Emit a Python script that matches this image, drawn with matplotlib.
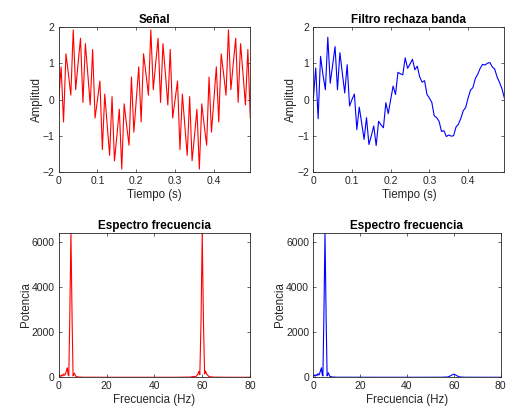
import numpy as np
import matplotlib
matplotlib.use("Agg")
import matplotlib.pyplot as plt

# ── Data ─────────────────────────────────────────────────────────────────────
FS = 160  # samples per second
signal_red = [
    0.00, 0.90, -0.62, 1.26, 0.71, 0.12, 1.92, 0.27,
    1.00, 1.69, -0.08, 1.54, 0.71, -0.15, 1.38, -0.51,
    0.00, 0.51, -1.38, 0.15, -0.71, -1.54, 0.08, -1.69,
    -1.00, -0.27, -1.92, -0.12, -0.71, -1.26, 0.62, -0.90,
    0.00, 0.90, -0.62, 1.26, 0.71, 0.12, 1.92, 0.27,
    1.00, 1.69, -0.08, 1.54, 0.71, -0.15, 1.38, -0.51,
    0.00, 0.51, -1.38, 0.15, -0.71, -1.54, 0.08, -1.69,
    -1.00, -0.27, -1.92, -0.12, -0.71, -1.26, 0.62, -0.90,
    0.00, 0.90, -0.62, 1.26, 0.71, 0.12, 1.92, 0.27,
    1.00, 1.69, -0.08, 1.54, 0.71, -0.15, 1.38, -0.51,
]
signal_blue = [
    0.00, 0.87, -0.53, 1.19, 0.68, 0.27, 1.72, 0.45,
    0.95, 1.46, 0.27, 1.29, 0.73, 0.18, 0.96, -0.18,
    0.00, 0.15, -0.83, -0.21, -0.65, -1.10, -0.50, -1.24,
    -1.00, -0.73, -1.27, -0.60, -0.70, -0.78, -0.09, -0.39,
    0.00, 0.37, 0.14, 0.75, 0.71, 0.68, 1.15, 0.86,
    0.98, 1.11, 0.82, 0.92, 0.62, 0.48, 0.52, 0.14,
    0.04, -0.08, -0.45, -0.50, -0.60, -0.88, -0.86, -1.02,
    -0.98, -1.01, -1.00, -0.76, -0.68, -0.52, -0.31, -0.22,
    0.04, 0.26, 0.33, 0.58, 0.70, 0.86, 0.97, 0.95,
    1.00, 1.02, 0.90, 0.84, 0.62, 0.47, 0.30, 0.04,
]

freq_red = [0, 0.4, 0.8, 1.2, 1.6, 2.0, 2.4, 2.8, 3.2, 3.5, 3.8, 4.1, 4.5, 5.0,
            5.5, 5.9, 6.2, 6.5, 6.9, 7.3, 8.0, 10, 20, 40, 50, 55, 56.5, 57.2,
            57.8, 58.2, 58.6, 59.0, 59.5, 60.0, 60.5, 61.0, 61.4, 61.8, 62.3,
            62.8, 63.5, 65, 70, 80]
power_red = [30, 80, 40, 110, 60, 150, 90, 180, 320, 420, 120, 60, 2500, 6400,
             2500, 60, 140, 180, 60, 40, 15, 5, 2, 2, 3, 10, 40, 20,
             80, 150, 260, 120, 2500, 6400, 2500, 150, 280, 150, 90,
             40, 20, 8, 3, 2]

freq_blue = [0, 0.4, 0.8, 1.2, 1.6, 2.0, 2.4, 2.8, 3.2, 3.5, 3.8, 4.1, 4.5, 5.0,
             5.5, 5.9, 6.2, 6.5, 6.9, 7.3, 8.0, 10, 20, 40, 55, 57.5, 58.5,
             59.3, 60.0, 60.7, 61.5, 62.5, 65, 80]
power_blue = [60, 100, 50, 120, 80, 160, 100, 200, 330, 420, 120, 60, 2500, 6400,
              2500, 60, 150, 200, 60, 40, 15, 5, 3, 2, 4, 15, 60,
              110, 140, 110, 60, 15, 4, 2]

time_ticks = [0, 0.1, 0.2, 0.3, 0.4]
time_labels = ["0", "0.1", "0.2", "0.3", "0.4"]
amp_ticks = [-2, -1, 0, 1, 2]
freq_ticks = [0, 20, 40, 60, 80]
pow_ticks = [0, 2000, 4000, 6000]

# ── Style ────────────────────────────────────────────────────────────────────
plt.rcParams['font.family'] = ['Liberation Sans', 'DejaVu Sans']
AX_COLOR = '#262626'
TICK_FS = 7.5
LABEL_FS = 8.3
TITLE_FS = 8.5


def style_axes(ax, title, xlabel, ylabel):
    ax.set_title(title, fontsize=TITLE_FS, fontweight='bold', color='black', pad=3)
    ax.set_xlabel(xlabel, fontsize=LABEL_FS, color=AX_COLOR, labelpad=2)
    ax.set_ylabel(ylabel, fontsize=LABEL_FS, color=AX_COLOR, labelpad=0)
    ax.tick_params(direction='in', length=2.2, width=0.5, colors=AX_COLOR,
                   labelsize=TICK_FS, top=True, right=True, pad=3)
    for s in ax.spines.values():
        s.set_color(AX_COLOR)
        s.set_linewidth(0.6)


fig = plt.figure(figsize=(5.09, 4.16), dpi=100)
ax1 = fig.add_axes([0.1153, 0.5865, 0.3764, 0.3486])
ax2 = fig.add_axes([0.6155, 0.5865, 0.3754, 0.3486])
ax3 = fig.add_axes([0.1159, 0.0930, 0.3752, 0.3476])
ax4 = fig.add_axes([0.6155, 0.0930, 0.3680, 0.3476])

t = np.arange(len(signal_red)) / FS

ax1.plot(t, signal_red, color='#ff0000', lw=0.8)
ax2.plot(t, signal_blue, color='#0000ff', lw=0.8)
for ax, title in [(ax1, 'Señal'), (ax2, 'Filtro rechaza banda')]:
    ax.set_xlim(0, t[-1])
    ax.set_ylim(-2, 2)
    ax.set_xticks(time_ticks)
    ax.set_xticklabels(time_labels)
    ax.set_yticks(amp_ticks)
    style_axes(ax, title, 'Tiempo (s)', 'Amplitud')

ax3.plot(freq_red, power_red, color='#ff0000', lw=0.8)
ax4.plot(freq_blue, power_blue, color='#0000ff', lw=0.8)
for ax in (ax3, ax4):
    ax.set_xlim(0, 80)
    ax.set_ylim(0, 6400)
    ax.set_xticks(freq_ticks)
    ax.set_yticks(pow_ticks)
    ax.set_yticklabels([str(v) for v in pow_ticks])
    style_axes(ax, 'Espectro frecuencia', 'Frecuencia (Hz)', 'Potencia')

fig.savefig("out.png", dpi=100)
